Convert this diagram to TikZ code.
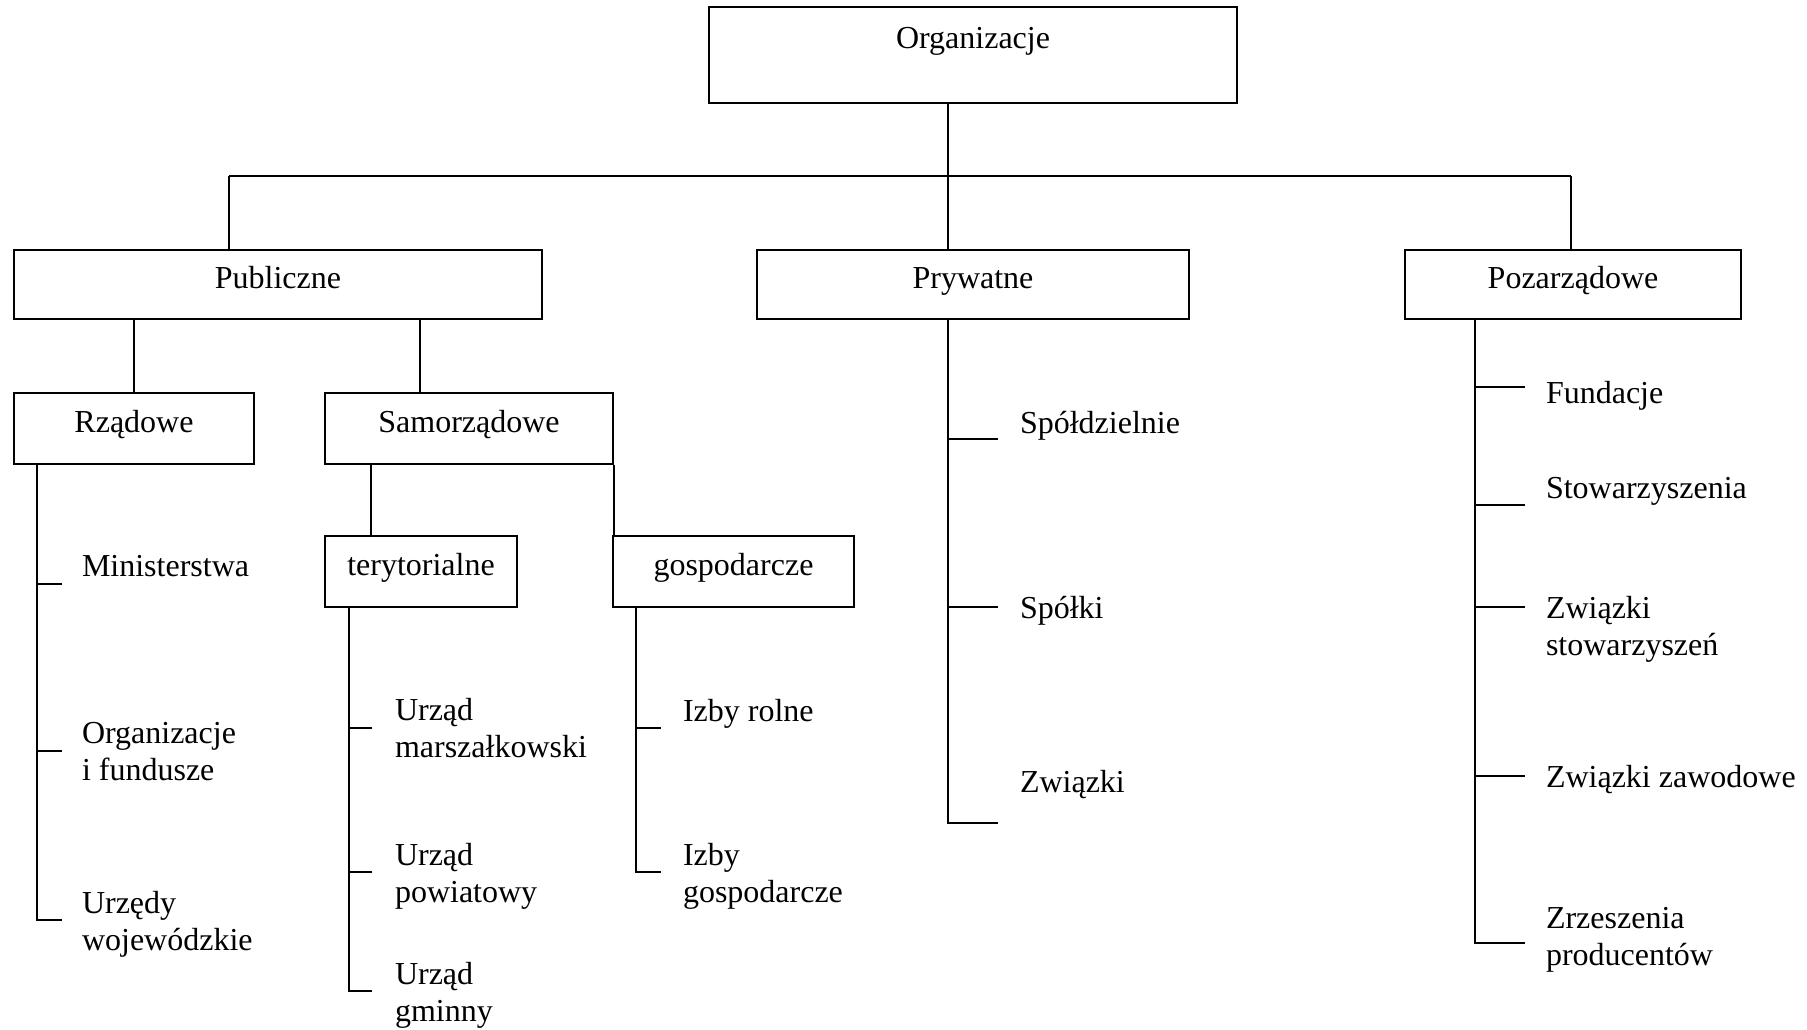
\documentclass[tikz,border=0pt]{standalone}
\usepackage{fontspec}
\setmainfont{Liberation Serif}
\usepackage{tikz}

\begin{document}
\begin{tikzpicture}[
	x = 0.5pt, y = -0.5pt,
	line width = 1pt,
	font = \fontsize{16}{18.5}\selectfont,
	box/.style  = {draw, inner sep=0pt, text height=19.5pt, text depth=16pt},
	item/.style = {anchor=west, align=left, inner sep=0pt}
]
	\useasboundingbox (0,0) rectangle (1807,1029);

	% boxes
	\node [box, minimum width=264pt, text height=20.5pt, text depth=27.5pt] (org) at (973,55) {Organizacje};
	\node [box, minimum width=264pt, text height=19pt, text depth=15.5pt] (pub) at (278,284.5) {Publiczne};
	\node [box, minimum width=216pt, text height=19pt, text depth=15.5pt] (prv) at (973,284.5) {Prywatne};
	\node [box, minimum width=168pt, text height=19pt, text depth=15.5pt] (poz) at (1573,284.5) {Pozarządowe};
	\node [box, minimum width=120pt] (rzad) at (134,428.5) {Rządowe};
	\node [box, minimum width=144pt] (samo) at (469,428.5) {Samorządowe};
	\node [box, minimum width=96pt] (ter) at (421,571.5) {terytorialne};
	\node [box, minimum width=120.5pt] (gosp) at (733.5,571.5) {gospodarcze};

	% top level
	\coordinate (busL) at (229,176);
	\coordinate (busM) at (948,176);
	\coordinate (busR) at (1571,176);
	\draw (org.south -| busM) -- (busM);
	\draw (busL) -- (busR);
	\draw (busL) -- (busL |- pub.north);
	\draw (busM) -- (busM |- prv.north);
	\draw (busR) -- (busR |- poz.north);

	% Publiczne
	\coordinate (samoTop) at ([xshift=48pt]samo.north west);
	\coordinate (terTop) at ([xshift=23.5pt]ter.north west);
	\draw (pub.south -| rzad.north) -- (rzad.north);
	\draw (samoTop |- pub.south) -- (samoTop);
	\draw (terTop |- samo.south) -- (terTop);
	\draw (samo.south east) -- (samo.south east |- gosp.north);

	% Rzadowe
	\coordinate (rz1) at (62,584);
	\coordinate (rz2) at (62,751);
	\coordinate (rz3) at (62,920);
	\draw ([xshift=12pt]rzad.south west) |- (rz3);
	\draw (rz1) -- ++(-24,0);
	\draw (rz2) -- ++(-24,0);
	\node [item] (minis) at (81,566) {Ministerstwa};
	\node [item] (fund) at (81,751.5) {Organizacje\\i fundusze};
	\node [item] (woj) at (81,924) {Urzędy\\wojewódzkie};

	% terytorialne
	\coordinate (te1) at (372,728);
	\coordinate (te2) at (372,872);
	\coordinate (te3) at (372,991);
	\draw ([xshift=12.5pt]ter.south west) |- (te3);
	\draw (te1) -- ++(-22,0);
	\draw (te2) -- ++(-22,0);
	\node [item] (marsz) at (394,728.5) {Urząd\\marszałkowski};
	\node [item] (powiat) at (394,876) {Urząd\\powiatowy};
	\node [item] (gmina) at (394,995) {Urząd\\gminny};

	% gospodarcze
	\coordinate (go1) at (661,728);
	\coordinate (go2) at (661,872);
	\draw ([xshift=12pt]gosp.south west) |- (go2);
	\draw (go1) -- ++(-24,0);
	\node [item] (rolne) at (682,714) {Izby rolne};
	\node [item] (izby) at (682,876) {Izby\\gospodarcze};

	% Prywatne
	\coordinate (pr1) at (998,439);
	\coordinate (pr2) at (998,607);
	\coordinate (pr3) at (998,823);
	\draw (busM |- prv.south) |- (pr3);
	\draw (pr1) -- ++(-50,0);
	\draw (pr2) -- ++(-50,0);
	\node [item] (spdz) at (1019,426) {Spółdzielnie};
	\node [item] (spolki) at (1019,611) {Spółki};
	\node [item] (zwiazki) at (1019,785) {Związki};

	% Pozarzadowe
	\coordinate (po1) at (1525,387);
	\coordinate (po2) at (1525,505);
	\coordinate (po3) at (1525,607);
	\coordinate (po4) at (1525,776);
	\coordinate (po5) at (1525,943);
	\draw ([xshift=35.5pt]poz.south west) |- (po5);
	\draw (po1) -- ++(-49,0);
	\draw (po2) -- ++(-49,0);
	\draw (po3) -- ++(-49,0);
	\draw (po4) -- ++(-49,0);
	\node [item] (fundacje) at (1545,396) {Fundacje};
	\node [item] (stow) at (1545,491) {Stowarzyszenia};
	\node [item] (zstow) at (1545,629) {Związki\\stowarzyszeń};
	\node [item] (zawod) at (1545,780) {Związki zawodowe};
	\node [item] (zrzesz) at (1545,940) {Zrzeszenia\\producentów};
\end{tikzpicture}
\end{document}
